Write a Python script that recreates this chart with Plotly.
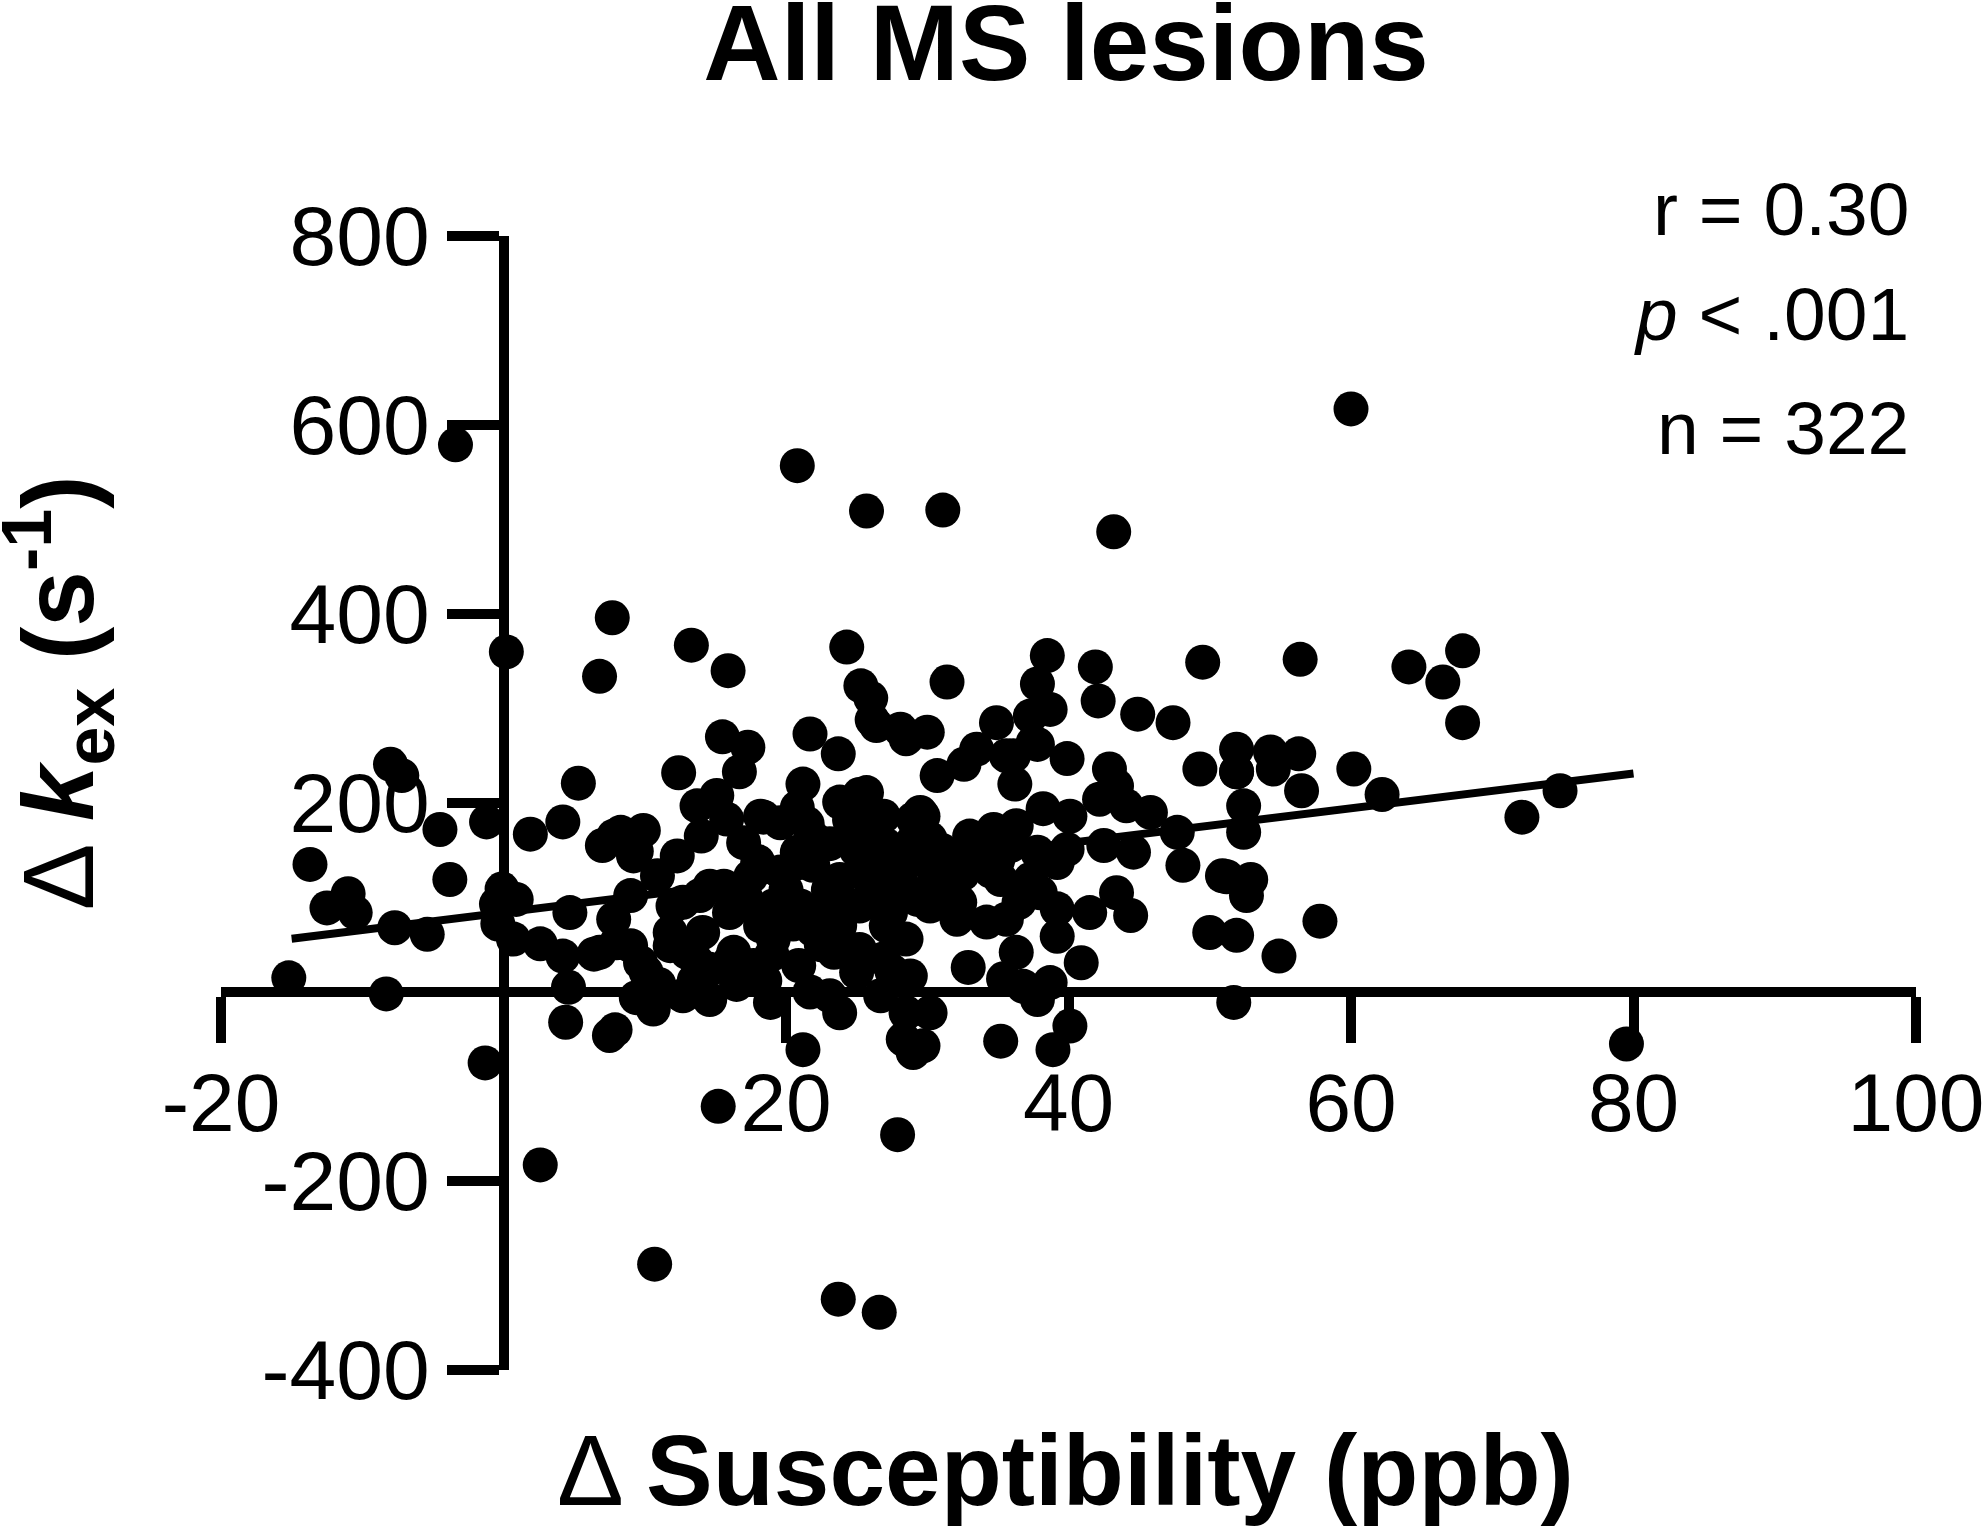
import plotly.graph_objects as go

# Dados
delta_susceptibility = [
    -15.2, -13.7, -12.5, -11.0, -10.5, -8.0, -7.2, -8.3, -7.7, -5.4,
    -4.5, -3.8, -3.4, -1.2, -1.3, 0.2, -0.1, 0.9, -0.5, -0.4,
    0.7, 2.6, 4.7, 4.2, 6.4, 4.6, 4.4, 7.5, 7.9, 1.9,
    4.2, 5.3, 6.8, 7.7, 2.6, 7.0, 7.8, 9.0, 9.9, 9.2,
    8.0, 9.0, 10.9, 12.3, 13.7, 15.1, 15.8, 17.0, 9.7, 10.4,
    12.7, 14.6, 11.8, 13.7, 16.0, 14.1, 16.0, 12.7, 14.6, 13.3,
    15.9, 15.5, 16.7, 12.4, 17.3, 8.3, 9.4, 18.4, 19.6, 14.0,
    15.6, 13.9, 12.0, 17.2, 19.1, 7.8, 9.0, 6.8, 11.8, 13.0,
    18.2, 19.1, 10.1, 14.6, 16.3, 17.7, 9.4, 10.6, 18.9, 15.2,
    10.7, 21.7, 23.7, 26.4, 28.5, 21.2, 20.8, 23.8, 25.2, 26.9,
    29.0, 20.8, 23.1, 25.2, 27.1, 28.8, 19.6, 21.9, 23.8, 25.7,
    28.1, 21.0, 22.9, 25.2, 27.4, 29.3, 21.9, 23.8, 27.1, 28.5,
    20.9, 23.4, 25.2, 26.9, 25.0, 21.7, 23.1, 23.8, 26.7, 28.5,
    21.2, 28.3, 29.0, 20.8, 25.7, 24.3, 25.3, 26.0, 26.1, 28.1,
    25.7, 29.5, 18.2, 23.7, 26.6, 27.9, 30.0, 33.5, 32.6, 30.7,
    35.6, 37.8, 34.9, 37.3, 38.7, 39.9, 36.2, 29.7, 30.2, 29.3,
    33.0, 34.7, 36.3, 38.2, 40.1, 35.9, 33.7, 31.6, 30.9, 35.2,
    37.3, 39.2, 37.8, 39.9, 32.3, 30.2, 34.2, 35.6, 32.1, 39.2,
    39.2, 36.3, 32.9, 35.4, 36.8, 38.7, 37.8, 35.2, 38.9, 28.8,
    30.2, 29.7, 31.1, 31.4, 37.8, 37.5, 36.1, 38.5, 42.9, 43.4,
    44.9, 47.4, 49.3, 51.9, 42.2, 44.1, 45.8, 47.7, 48.1, 50.9,
    42.5, 44.6, 43.4, 44.4, 41.5, 40.9, 40.1, 50.0, 51.7, 41.9,
    49.5, 42.1, 43.2, 51.9, 51.2, 52.9, 52.6, 51.9, 52.4, 52.4,
    54.3, 56.3, 54.5, 60.2, 56.5, 62.2, 56.4, 64.1, 67.9, 66.5,
    67.9, 72.1, 74.8, 57.8, 54.9, 79.5, 60.0, 51.9,
    23.0, 25.0, 27.0, 22.0, 26.0, 24.0, 20.0, 18.0, 29.0, 31.0,
    33.0, 35.0, 21.5, 24.5, 19.0, 17.5, 26.5, 28.0, 30.5, 32.5,
    34.5, 22.5, 20.5, 18.5, 11.0, 13.5, 16.5, 36.5, 38.0, 27.5,
]
delta_kex = [
    15, 135, 89, 104, 84, 241, 229, -2, 68, 61,
    172, 119, 579, 180, -75, 360, 109, 98, 93, 72,
    56, 51, 84, 38, 40, 5, -32, -46, -40, 167,
    180, 221, 334, 396, -183, 155, 165, 158, 171, 144,
    52, 102, 123, 144, 197, 208, 183, 158, 31, -11,
    -4, -8, 49, 32, 32, 63, 84, 95, 112, 367,
    340, 270, 233, 232, 259, 169, 149, 185, 179, 165,
    112, 102, 91, 98, 91, 77, 49, 42, 63, 42,
    70, 56, 21, 24, 42, 28, -6, -18, -11, -121,
    -288, 273, 252, 282, 268, 220, 195, 201, 209, 186,
    183, 148, 157, 169, 155, 141, 127, 134, 119, 123,
    119, 91, 88, 91, 84, 98, 66, 70, 70, 56,
    28, 42, 45, 35, 21, 0, -4, -22, -4, -22,
    -61, -50, -64, 557, 509, 365, 324, 311, 288, 278,
    211, 190, 186, -325, -339, -151, 275, 257, 241, 229,
    250, 262, 285, 292, 299, 247, 220, 186, 162, 141,
    165, 172, 176, 194, 186, 155, 141, 137, 119, 119,
    119, 137, 148, 151, 95, 91, 74, 77, 77, 88,
    59, 42, 26, 14, 6, 10, -8, -52, -61, 17,
    -22, -57, 510, 328, 326, 264, 250, 356, 236, 218,
    294, 285, 236, 257, 204, 197, 190, 169, 134, 123,
    155, 148, 105, 81, 84, 31, -36, 63, -11, 344,
    349, 308, 487, 60, 122, 119, 102, 233, 197, 169,
    254, 252, 236, 236, 213, 209, 352, 344, 361, 328,
    285, 185, 213, 75, 38, -55, 617, 233,
    108, 150, 132, 162, 178, 96, 108, 138, 160, 150,
    150, 140, 178, 182, 40, 122, 104, 100, 118, 125,
    128, 50, 72, 12, 8, 12, 8, 95, 105, 22,
]

# Reta de regressao
fit_x = [-15, 80]
fit_slope = 1.84
fit_intercept = 84
fit_y = [fit_intercept + fit_slope * v for v in fit_x]

x_ticks = [-20, 0, 20, 40, 60, 80, 100]
x_ticktext = ['-20', '', '20', '40', '60', '80', '100']
y_ticks = [-400, -200, 0, 200, 400, 600, 800]
y_ticktext = ['-400', '-200', '', '200', '400', '600', '800']

stats = ['r = 0.30', '<i>p</i> < .001', 'n = 322']
stats_y = [1.024, 0.931, 0.831]

fonte = 'Liberation Sans, Arial, sans-serif'

fig = go.Figure()
fig.add_trace(go.Scatter(x = fit_x, y = fit_y, mode = 'lines',
                         line = dict(color = 'black', width = 8),
                         hoverinfo = 'skip'))
fig.add_trace(go.Scatter(x = delta_susceptibility, y = delta_kex, mode = 'markers',
                         marker = dict(color = 'black', size = 35, line = dict(width = 0)),
                         cliponaxis = False))

fig.update_layout(width = 1983, height = 1531,
                  margin = dict(l = 221, r = 67, t = 236, b = 161, autoexpand = False),
                  plot_bgcolor = 'white', paper_bgcolor = 'white',
                  showlegend = False,
                  font = dict(family = fonte, color = 'black'),
                  title = dict(text = '<b>All MS lesions</b>',
                               font = dict(size = 107, family = fonte, color = 'black'),
                               x = 0.5376, xanchor = 'center',
                               y = 0.972, yanchor = 'middle'))

fig.update_xaxes(range = [-20, 100], anchor = 'free', position = 1/3,
                 showline = True, linewidth = 10, linecolor = 'black',
                 ticks = 'outside', ticklen = 46, tickwidth = 10, tickcolor = 'black',
                 tickvals = x_ticks, ticktext = x_ticktext,
                 tickfont = dict(size = 82, family = fonte, color = 'black'),
                 ticklabeloverflow = 'allow', ticklabelstandoff = -10,
                 automargin = False,
                 showgrid = False, zeroline = False, layer = 'below traces')
fig.update_yaxes(range = [-400, 800], anchor = 'free', position = 1/6,
                 showline = True, linewidth = 10, linecolor = 'black',
                 ticks = 'outside', ticklen = 52, tickwidth = 10, tickcolor = 'black',
                 tickvals = y_ticks, ticktext = y_ticktext,
                 tickfont = dict(size = 84, family = fonte, color = 'black'),
                 ticklabeloverflow = 'allow', automargin = False,
                 showgrid = False, zeroline = False, layer = 'below traces')

# Titulos dos eixos
fig.add_annotation(text = 'Δ <b>Susceptibility (ppb)</b>',
                   xref = 'paper', yref = 'paper', x = 0.4985, y = -0.088,
                   xanchor = 'center', yanchor = 'middle', showarrow = False,
                   font = dict(size = 100, family = fonte, color = 'black'))
fig.add_annotation(text = 'Δ <b><i>k</i><sub>ex</sub> (s<sup>-1</sup>)</b>',
                   xref = 'paper', yref = 'paper', x = -0.096, y = 0.597,
                   xanchor = 'center', yanchor = 'middle', showarrow = False,
                   textangle = -90,
                   font = dict(size = 100, family = fonte, color = 'black'))

# Estatisticas
for txt, yy in zip(stats, stats_y):
    fig.add_annotation(text = txt, xref = 'paper', yref = 'paper',
                       x = 0.997, y = yy, xanchor = 'right', yanchor = 'middle',
                       showarrow = False,
                       font = dict(size = 75, family = fonte, color = 'black'))

# sem margem na pagina, para a figura ocupar a janela toda
fig.write_html('out.html',
               config = {'displayModeBar': False},
               post_script = "document.body.style.margin = '0'; document.body.style.overflow = 'hidden';")
